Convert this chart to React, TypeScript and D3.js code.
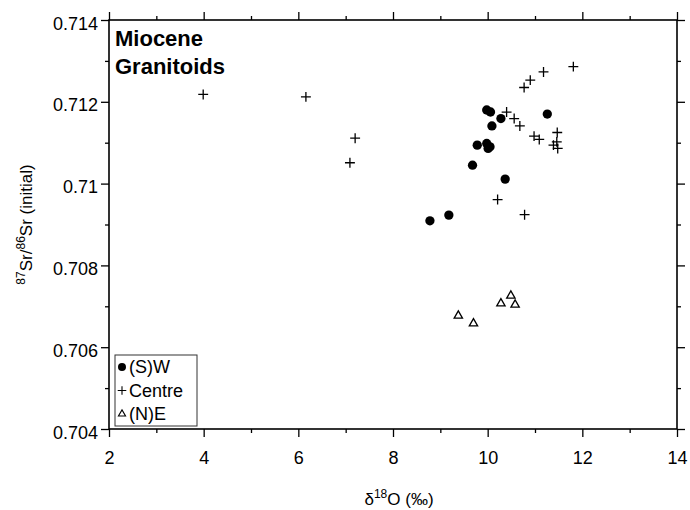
import React, { useEffect, useRef } from 'react';
import * as d3 from 'd3';

// (S)W granitoids
const swD18O = [9.98, 10.06, 10.28, 10.09, 11.26, 9.78, 9.98, 10.05, 10.01, 9.68, 10.37, 9.18, 8.78];
const swSr = [0.7118, 0.71175, 0.71159, 0.71141, 0.7117, 0.71094, 0.71098, 0.7109, 0.71086, 0.71045, 0.71011, 0.70923, 0.70909];

// Centre
const centreD18O = [3.99, 6.16, 7.2, 7.09, 11.81, 11.18, 10.9, 10.77, 10.4, 10.56, 10.68, 10.98, 11.09, 11.47, 11.46, 11.39, 11.48, 10.21, 10.78];
const centreSr = [0.71218, 0.71212, 0.71111, 0.71051, 0.71286, 0.71273, 0.71253, 0.71235, 0.71175, 0.71159, 0.71141, 0.71116, 0.71108, 0.71125, 0.71102, 0.71094, 0.71086, 0.70961, 0.70924];

// (N)E
const neD18O = [9.38, 9.7, 10.28, 10.49, 10.58];
const neSr = [0.70677, 0.70658, 0.70707, 0.70726, 0.70704];

const xTicks = [2, 4, 6, 8, 10, 12, 14];
const xMinorTicks = [3, 5, 7, 9, 11, 13];
const yTicks = [0.704, 0.706, 0.708, 0.71, 0.712, 0.714];
const yTickLabels = ['0.704', '0.706', '0.708', '0.71', '0.712', '0.714'];
const yMinorTicks = [0.705, 0.707, 0.709, 0.711, 0.713];

const legendLabels = ['(S)W', 'Centre', '(N)E'];
const titleLines = ['Miocene', 'Granitoids'];

const W = 690;
const H = 510;
const FONT = '"Liberation Sans", Arial, Helvetica, sans-serif';

// plus sign drawn as strokes (fallback if d3.symbolPlus is missing)
const plusSymbol: any = (d3 as any).symbolPlus || {
  draw(ctx: any, size: number) {
    const r = Math.sqrt(size) * 0.6;
    ctx.moveTo(-r, 0);
    ctx.lineTo(r, 0);
    ctx.moveTo(0, r);
    ctx.lineTo(0, -r);
  },
};

const App = () => {
  const svgRef = useRef<SVGSVGElement>(null);

  useEffect(() => {
    if (!svgRef.current) return;
    const svg = d3.select(svgRef.current);
    svg.selectAll('*').remove();

    const margin = { top: 20, right: 13, bottom: 81, left: 109 };
    const innerW = W - margin.left - margin.right;
    const innerH = H - margin.top - margin.bottom;

    const x = d3.scaleLinear().domain([2, 14]).range([0, innerW]);
    const y = d3.scaleLinear().domain([0.704, 0.714]).range([innerH, 0]);

    svg.append('rect').attr('width', W).attr('height', H).attr('fill', '#fff');

    const g = svg.append('g').attr('transform', `translate(${margin.left},${margin.top})`);

    const styleAxis = (sel: any) => {
      sel.select('.domain').remove();
      sel.selectAll('line').attr('stroke', '#000').attr('stroke-width', 1.3);
      sel.selectAll('text')
        .attr('font-family', FONT)
        .attr('font-size', 18)
        .attr('fill', '#000');
    };

    // major + minor ticks, all four sides, outward
    g.append('g')
      .attr('transform', `translate(0,${innerH})`)
      .call(d3.axisBottom(x).tickValues(xTicks).tickSize(8).tickPadding(14).tickFormat(d3.format('d')) as any)
      .call(styleAxis);
    g.append('g')
      .attr('transform', `translate(0,${innerH})`)
      .call(d3.axisBottom(x).tickValues(xMinorTicks).tickSize(4).tickFormat(() => '') as any)
      .call(styleAxis);
    g.append('g')
      .call(d3.axisTop(x).tickValues(xTicks).tickSize(8).tickFormat(() => '') as any)
      .call(styleAxis);
    g.append('g')
      .call(d3.axisTop(x).tickValues(xMinorTicks).tickSize(4).tickFormat(() => '') as any)
      .call(styleAxis);

    g.append('g')
      .call(d3.axisLeft(y).tickValues(yTicks).tickSize(8).tickPadding(3)
        .tickFormat((d, i) => yTickLabels[i]) as any)
      .call(styleAxis)
      .selectAll('text')
      .attr('dy', '0.5em');
    g.append('g')
      .call(d3.axisLeft(y).tickValues(yMinorTicks).tickSize(4).tickFormat(() => '') as any)
      .call(styleAxis);
    g.append('g')
      .attr('transform', `translate(${innerW},0)`)
      .call(d3.axisRight(y).tickValues(yTicks).tickSize(8).tickFormat(() => '') as any)
      .call(styleAxis);
    g.append('g')
      .attr('transform', `translate(${innerW},0)`)
      .call(d3.axisRight(y).tickValues(yMinorTicks).tickSize(4).tickFormat(() => '') as any)
      .call(styleAxis);

    // frame
    g.append('rect')
      .attr('width', innerW)
      .attr('height', innerH)
      .attr('fill', 'none')
      .attr('stroke', '#000')
      .attr('stroke-width', 1.6);

    // title
    g.append('text')
      .attr('font-family', FONT)
      .attr('font-size', 22)
      .attr('font-weight', 'bold')
      .selectAll('tspan')
      .data(titleLines)
      .enter()
      .append('tspan')
      .attr('x', 6)
      .attr('y', (d, i) => 26 + i * 28)
      .text(d => d);

    // data
    const circle = d3.symbol().type(d3.symbolCircle).size(68);
    const plus = d3.symbol().type(plusSymbol).size(34);
    const tri = d3.symbol().type(d3.symbolTriangle).size(30);

    const pts = g.append('g');
    pts.selectAll('.sw')
      .data(swD18O)
      .enter()
      .append('path')
      .attr('transform', (d, i) => `translate(${x(d)},${y(swSr[i])})`)
      .attr('d', circle)
      .attr('fill', '#000');

    pts.selectAll('.centre')
      .data(centreD18O)
      .enter()
      .append('path')
      .attr('transform', (d, i) => `translate(${x(d)},${y(centreSr[i])})`)
      .attr('d', plus)
      .attr('fill', 'none')
      .attr('stroke', '#000')
      .attr('stroke-width', 1.3);

    pts.selectAll('.ne')
      .data(neD18O)
      .enter()
      .append('path')
      .attr('transform', (d, i) => `translate(${x(d)},${y(neSr[i])})`)
      .attr('d', tri)
      .attr('fill', '#fff')
      .attr('stroke', '#000')
      .attr('stroke-width', 1.3);

    // legend
    const legend = g.append('g').attr('transform', 'translate(6,335)');
    legend.append('rect')
      .attr('width', 82)
      .attr('height', 71)
      .attr('fill', '#fff')
      .attr('stroke', '#333')
      .attr('stroke-width', 1);

    const legendSymbols = [
      { d: d3.symbol().type(d3.symbolCircle).size(50)(), fill: '#000', stroke: 'none' },
      { d: d3.symbol().type(plusSymbol).size(26)(), fill: 'none', stroke: '#000' },
      { d: d3.symbol().type(d3.symbolTriangle).size(22)(), fill: '#fff', stroke: '#000' },
    ];

    legendLabels.forEach((label, i) => {
      const row = legend.append('g').attr('transform', `translate(0,${18 + i * 23.5})`);
      row.append('path')
        .attr('transform', 'translate(7,-6)')
        .attr('d', legendSymbols[i].d as string)
        .attr('fill', legendSymbols[i].fill)
        .attr('stroke', legendSymbols[i].stroke)
        .attr('stroke-width', 1.1);
      row.append('text')
        .attr('x', 14)
        .attr('font-family', FONT)
        .attr('font-size', 18)
        .text(label);
    });

    // axis titles
    const yLabel = g.append('text')
      .attr('transform', `translate(-77,${innerH / 2}) rotate(-90)`)
      .attr('text-anchor', 'middle')
      .attr('font-family', FONT)
      .attr('font-size', 17);
    yLabel.append('tspan').attr('font-size', 12).attr('dy', -7).text('87');
    yLabel.append('tspan').attr('dy', 7).text('Sr/');
    yLabel.append('tspan').attr('font-size', 12).attr('dy', -7).text('86');
    yLabel.append('tspan').attr('dy', 7).text('Sr (initial)');

    const xLabel = g.append('text')
      .attr('transform', `translate(${innerW / 2 + 6},${innerH + 76})`)
      .attr('text-anchor', 'middle')
      .attr('font-family', FONT)
      .attr('font-size', 17);
    xLabel.append('tspan').text('δ');
    xLabel.append('tspan').attr('font-size', 12).attr('dy', -7).text('18');
    xLabel.append('tspan').attr('dy', 7).text('O (‰)');
  }, []);

  return (
    <svg
      ref={svgRef}
      width={W}
      height={H}
      style={{ position: 'absolute', left: 0, top: 0, display: 'block' }}
    />
  );
};

export default App;
